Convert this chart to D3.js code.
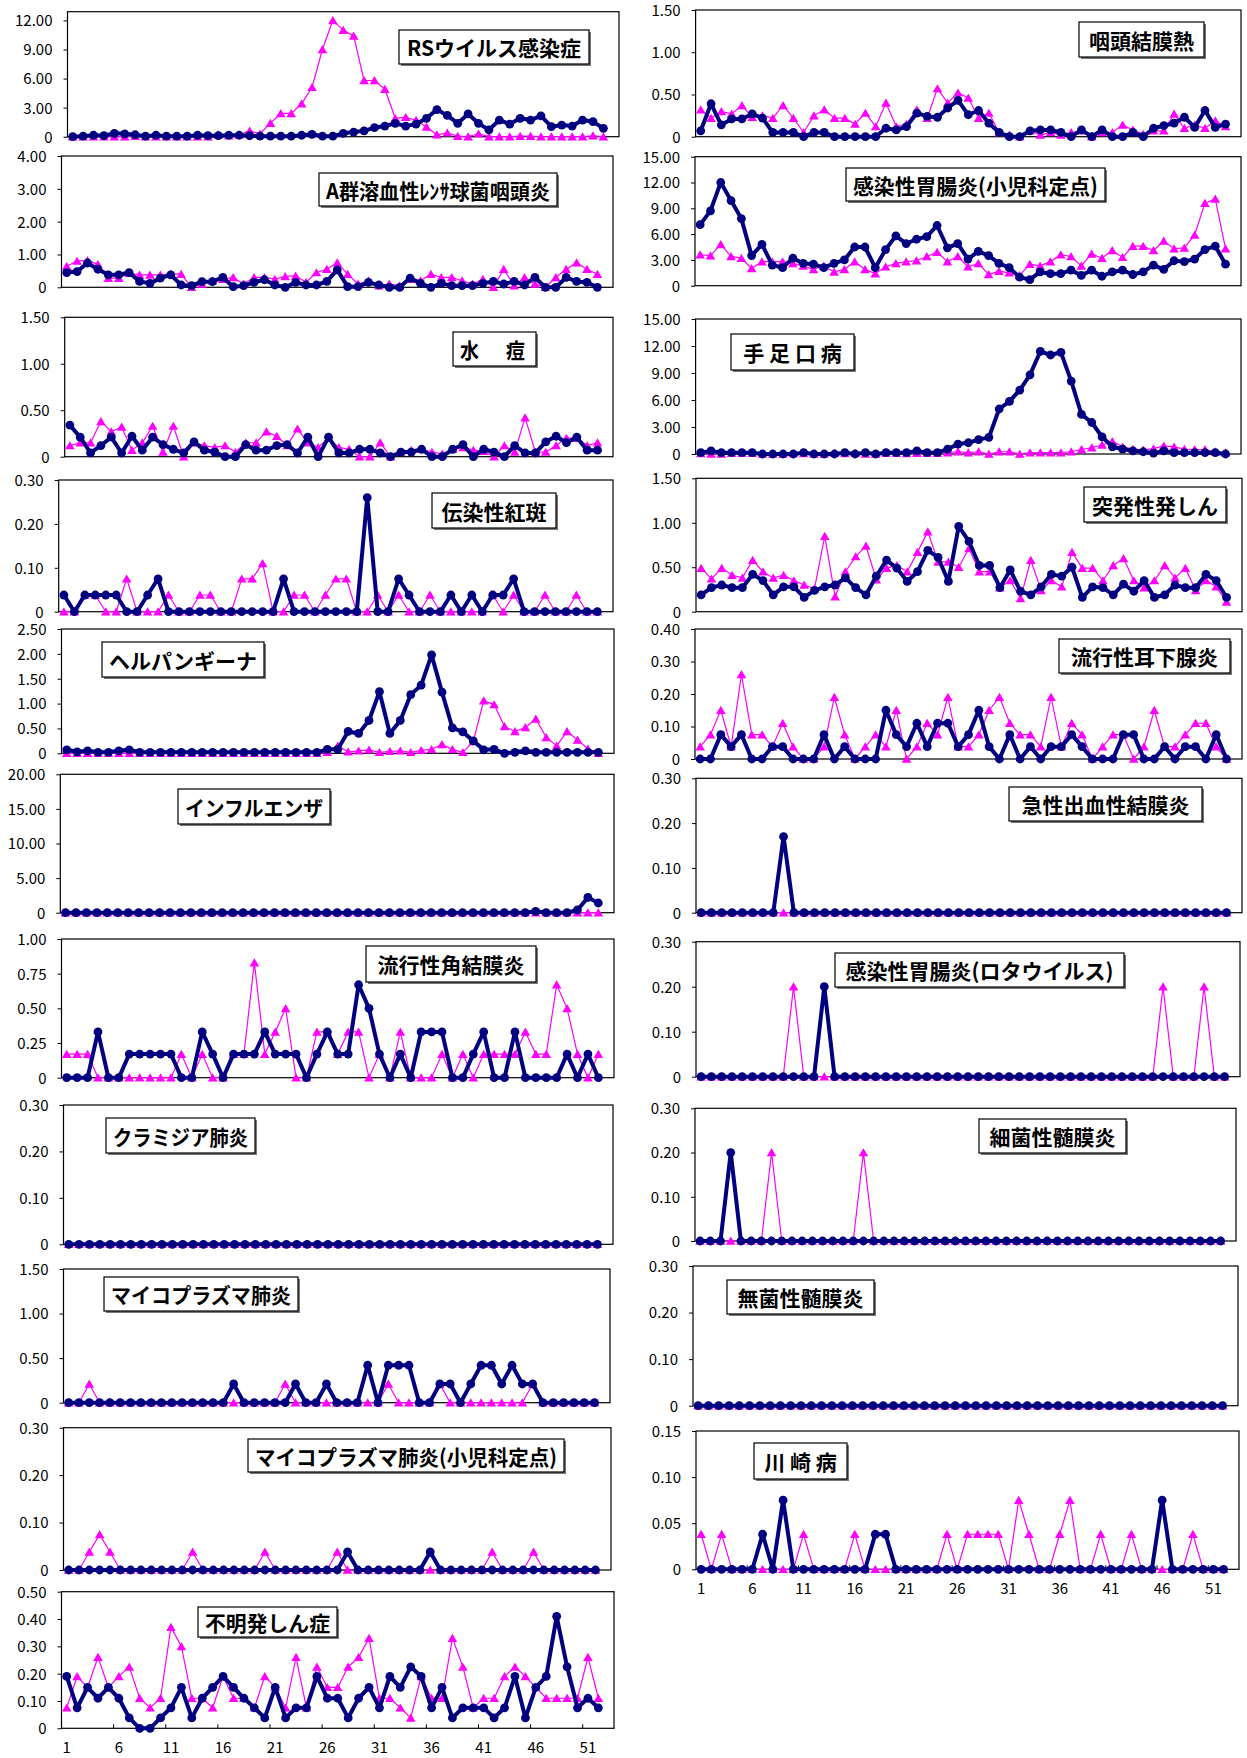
<!DOCTYPE html>
<html>
<head>
<meta charset="utf-8">
<script src="https://cdn.jsdelivr.net/npm/d3@7"></script>
<style>
  body { margin: 0; background: #fff; }
  svg { display: block; }
</style>
</head>
<body>
<div class="canvas"></div>
<script>
const w = 1247;
const h = 1758;

// weeks 1..52 (a 53rd empty slot keeps the Excel spacing)
const weeks = d3.range(1, 53);
const slots = d3.range(1, 54);
const weekLabels = [1, 6, 11, 16, 21, 26, 31, 36, 41, 46, 51];

// ---- values (navy = this year, magenta = last year) ----
const rsNow = [0, 0.05, 0.15, 0.1, 0.35, 0.3, 0.2, 0.05, 0.15, 0.05,
  0.05, 0.05, 0.15, 0.1, 0.1, 0.15, 0.15, 0.1, 0.05, 0.05,
  0.05, 0.05, 0.15, 0.25, 0.05, 0.05, 0.35, 0.48, 0.6, 0.93,
  1.1, 1.38, 1.1, 1.3, 1.9, 2.8, 2.2, 1.38, 2.35, 1.38,
  0.7, 1.72, 1.3, 1.9, 1.72, 2.14, 1.03, 1.2, 1.1, 1.72,
  1.55, 0.86];
const rsPrev = [0, 0, 0, 0, 0, 0, 0.05, 0, 0, 0,
  0, 0, 0, 0, 0.2, 0.1, 0.2, 0.6, 0.3, 1.4,
  2.4, 2.4, 3.4, 5.1, 9.0, 12.0, 11.0, 10.4, 5.8, 5.8,
  4.9, 1.9, 2.0, 1.7, 1.0, 0.2, 0.4, 0.05, 0, 0.3,
  0, 0, 0, 0.05, 0.05, 0, 0, 0, 0, 0,
  0.1, 0];

const agNow = [0.45, 0.48, 0.74, 0.55, 0.38, 0.38, 0.45, 0.18, 0.12, 0.28,
  0.38, 0.07, 0.05, 0.17, 0.17, 0.3, 0.02, 0.05, 0.15, 0.23,
  0.07, 0, 0.15, 0.07, 0.07, 0.18, 0.53, 0.02, 0.02, 0.15,
  0.07, 0, 0, 0.28, 0.12, 0, 0.12, 0.05, 0.05, 0.05,
  0.12, 0.18, 0.1, 0.18, 0.07, 0.3, 0, 0, 0.3, 0.18,
  0.15, 0];
const agPrev = [0.64, 0.8, 0.82, 0.7, 0.28, 0.28, 0.43, 0.38, 0.38, 0.38,
  0.41, 0.4, 0, 0.1, 0.2, 0.25, 0.3, 0.1, 0.3, 0.3,
  0.25, 0.33, 0.35, 0.15, 0.45, 0.55, 0.75, 0.4, 0.1, 0.2,
  0.05, 0.1, 0.05, 0.25, 0.2, 0.4, 0.3, 0.3, 0.2, 0.1,
  0.25, 0, 0.55, 0.05, 0.3, 0.1, 0, 0.3, 0.55, 0.75,
  0.55, 0.4];

const vzNow = [0.34, 0.21, 0.04, 0.12, 0.21, 0.04, 0.22, 0.07, 0.21, 0.13,
  0.08, 0.04, 0.16, 0.07, 0.05, 0, 0, 0.13, 0.07, 0.07,
  0.12, 0.13, 0.04, 0.21, 0, 0.21, 0.04, 0.04, 0.08, 0.08,
  0.04, 0, 0.05, 0.05, 0.08, 0, 0, 0.08, 0.13, 0,
  0.08, 0.05, 0, 0.12, 0.04, 0.04, 0.16, 0.22, 0.15, 0.21,
  0.07, 0.07];
const vzPrev = [0.12, 0.15, 0.15, 0.38, 0.27, 0.32, 0.07, 0.15, 0.33, 0.05,
  0.33, 0, 0.15, 0.12, 0.1, 0.12, 0.05, 0.15, 0.15, 0.27,
  0.22, 0.12, 0.3, 0.15, 0.1, 0.2, 0.1, 0.08, 0, 0,
  0.15, 0, 0.05, 0.07, 0.08, 0.05, 0.03, 0.08, 0.1, 0.07,
  0.06, 0, 0.12, 0.05, 0.42, 0.05, 0.05, 0.12, 0.2, 0.2,
  0.12, 0.15];

const kzNow = [0.038, 0, 0.038, 0.038, 0.038, 0.038, 0, 0, 0.038, 0.075,
  0, 0, 0, 0, 0, 0, 0, 0, 0, 0,
  0, 0.075, 0, 0, 0, 0, 0, 0, 0, 0.26,
  0, 0, 0.075, 0.038, 0, 0, 0, 0.038, 0, 0.038,
  0, 0.038, 0.038, 0.075, 0, 0, 0, 0, 0, 0,
  0, 0];
const kzPrev = [0, 0, 0.038, 0.038, 0, 0, 0.075, 0, 0, 0,
  0.038, 0, 0, 0.038, 0.038, 0, 0, 0.075, 0.075, 0.11,
  0, 0, 0.038, 0.038, 0, 0.038, 0.075, 0.075, 0, 0,
  0.038, 0, 0.038, 0, 0, 0.038, 0, 0, 0, 0,
  0, 0.038, 0, 0.038, 0, 0, 0.038, 0, 0, 0.038,
  0, 0];

const hpNow = [0.07, 0.03, 0.05, 0.02, 0.02, 0.05, 0.07, 0.02, 0.02, 0.02,
  0.02, 0.02, 0.02, 0.02, 0.02, 0.02, 0.02, 0.02, 0.02, 0.02,
  0.02, 0.02, 0.02, 0.02, 0.02, 0.08, 0.08, 0.44, 0.4, 0.66,
  1.24, 0.4, 0.66, 1.18, 1.37, 1.98, 1.23, 0.51, 0.43, 0.25,
  0.07, 0.08, 0, 0.02, 0.05, 0.02, 0.02, 0.02, 0.02, 0.02,
  0.02, 0.02];
const hpPrev = [0, 0, 0, 0, 0, 0, 0, 0, 0, 0,
  0, 0, 0, 0, 0, 0, 0, 0, 0, 0,
  0, 0, 0, 0, 0, 0.02, 0.15, 0.03, 0.05, 0.07,
  0.02, 0.04, 0.05, 0.02, 0.06, 0.08, 0.18, 0.08, 0.02, 0.24,
  1.06, 0.98, 0.54, 0.44, 0.52, 0.69, 0.32, 0.15, 0.44, 0.27,
  0.09, 0];

const infNow = [0, 0, 0, 0, 0, 0, 0, 0, 0, 0,
  0, 0, 0, 0, 0, 0, 0, 0, 0, 0,
  0, 0, 0, 0, 0, 0, 0, 0, 0, 0,
  0, 0, 0, 0, 0, 0, 0, 0, 0, 0,
  0, 0, 0, 0, 0, 0.2, 0, 0, 0, 0.4,
  2.2, 1.4];
const infPrev = [0, 0, 0, 0, 0, 0, 0, 0, 0, 0,
  0, 0, 0, 0, 0, 0, 0, 0, 0, 0,
  0, 0, 0, 0, 0, 0, 0, 0, 0, 0,
  0, 0, 0, 0, 0, 0, 0, 0, 0, 0,
  0, 0, 0, 0, 0, 0, 0, 0, 0, 0,
  0, 0];

const kcNow = [0, 0, 0, 0.33, 0, 0, 0.17, 0.17, 0.17, 0.17,
  0.17, 0, 0, 0.33, 0.17, 0, 0.17, 0.17, 0.17, 0.33,
  0.17, 0.17, 0.17, 0, 0.17, 0.33, 0.17, 0.17, 0.67, 0.5,
  0.17, 0, 0.17, 0, 0.33, 0.33, 0.33, 0, 0, 0.17,
  0.33, 0, 0, 0.33, 0, 0, 0, 0, 0.17, 0,
  0.17, 0];
const kcPrev = [0.17, 0.17, 0.17, 0, 0, 0, 0, 0, 0, 0,
  0, 0.17, 0, 0.17, 0, 0, 0.17, 0.17, 0.83, 0.17,
  0.33, 0.5, 0, 0, 0.33, 0.33, 0.17, 0.33, 0.33, 0,
  0.17, 0, 0.33, 0, 0, 0, 0.17, 0, 0.17, 0,
  0.17, 0.17, 0.17, 0.17, 0.33, 0.17, 0.17, 0.67, 0.5, 0.17,
  0, 0.17];

const chNow = [0, 0, 0, 0, 0, 0, 0, 0, 0, 0,
  0, 0, 0, 0, 0, 0, 0, 0, 0, 0,
  0, 0, 0, 0, 0, 0, 0, 0, 0, 0,
  0, 0, 0, 0, 0, 0, 0, 0, 0, 0,
  0, 0, 0, 0, 0, 0, 0, 0, 0, 0,
  0, 0];
const chPrev = [0, 0, 0, 0, 0, 0, 0, 0, 0, 0,
  0, 0, 0, 0, 0, 0, 0, 0, 0, 0,
  0, 0, 0, 0, 0, 0, 0, 0, 0, 0,
  0, 0, 0, 0, 0, 0, 0, 0, 0, 0,
  0, 0, 0, 0, 0, 0, 0, 0, 0, 0,
  0, 0];

const mpNow = [0, 0, 0, 0, 0, 0, 0, 0, 0, 0,
  0, 0, 0, 0, 0, 0, 0.21, 0, 0, 0,
  0, 0, 0.21, 0, 0, 0.21, 0, 0, 0, 0.42,
  0, 0.42, 0.42, 0.42, 0, 0, 0.21, 0.21, 0, 0.21,
  0.42, 0.42, 0.21, 0.42, 0.21, 0.21, 0, 0, 0, 0,
  0, 0];
const mpPrev = [0, 0, 0.21, 0, 0, 0, 0, 0, 0, 0,
  0, 0, 0, 0, 0, 0, 0, 0, 0, 0,
  0, 0.21, 0, 0, 0, 0, 0, 0, 0, 0,
  0, 0.21, 0, 0, 0, 0, 0.21, 0, 0, 0,
  0, 0, 0, 0, 0, 0.21, 0, 0, 0, 0,
  0, 0];

const mpcNow = [0, 0, 0, 0, 0, 0, 0, 0, 0, 0,
  0, 0, 0, 0, 0, 0, 0, 0, 0, 0,
  0, 0, 0, 0, 0, 0, 0, 0.038, 0, 0,
  0, 0, 0, 0, 0, 0.038, 0, 0, 0, 0,
  0, 0, 0, 0, 0, 0, 0, 0, 0, 0,
  0, 0];
const mpcPrev = [0, 0, 0.038, 0.075, 0.038, 0, 0, 0, 0, 0,
  0, 0, 0.038, 0, 0, 0, 0, 0, 0, 0.038,
  0, 0, 0, 0, 0, 0, 0.038, 0, 0, 0,
  0, 0, 0, 0, 0, 0, 0, 0, 0, 0,
  0, 0.038, 0, 0, 0, 0.038, 0, 0, 0, 0,
  0, 0];

const fmNow = [0.19, 0.075, 0.15, 0.11, 0.15, 0.11, 0.038, 0, 0, 0.038,
  0.075, 0.15, 0.038, 0.11, 0.15, 0.19, 0.15, 0.11, 0.075, 0.038,
  0.15, 0.038, 0.075, 0.075, 0.19, 0.11, 0.11, 0.038, 0.11, 0.15,
  0.075, 0.19, 0.15, 0.225, 0.19, 0.075, 0.15, 0.038, 0.075, 0.075,
  0.075, 0.038, 0.075, 0.19, 0.038, 0.15, 0.19, 0.41, 0.225, 0.075,
  0.11, 0.075];
const fmPrev = [0.075, 0.19, 0.15, 0.26, 0.15, 0.19, 0.225, 0.11, 0.075, 0.11,
  0.37, 0.3, 0.11, 0.11, 0.075, 0.19, 0.11, 0.11, 0.075, 0.19,
  0.15, 0.075, 0.26, 0.075, 0.225, 0.15, 0.15, 0.225, 0.26, 0.33,
  0.11, 0.11, 0.075, 0.038, 0.19, 0.11, 0.11, 0.33, 0.225, 0.075,
  0.11, 0.11, 0.19, 0.225, 0.19, 0.15, 0.11, 0.11, 0.11, 0.11,
  0.26, 0.11];

const phNow = [0.07, 0.39, 0.14, 0.21, 0.21, 0.27, 0.22, 0.05, 0.05, 0.05,
  0, 0.05, 0.05, 0, 0, 0, 0, 0, 0.1, 0.08,
  0.12, 0.28, 0.24, 0.23, 0.34, 0.43, 0.26, 0.31, 0.16, 0.05,
  0, 0, 0.07, 0.08, 0.08, 0.05, 0, 0.08, 0, 0.08,
  0, 0, 0.05, 0, 0.1, 0.13, 0.16, 0.23, 0.11, 0.31,
  0.11, 0.15];
const phPrev = [0.32, 0.22, 0.3, 0.27, 0.37, 0.23, 0.25, 0.22, 0.37, 0.22,
  0.05, 0.25, 0.32, 0.22, 0.22, 0.15, 0.28, 0.12, 0.4, 0.12,
  0.15, 0.32, 0.22, 0.57, 0.4, 0.52, 0.46, 0.22, 0.28, 0.05,
  0.02, 0, 0.07, 0.02, 0.05, 0.02, 0.05, 0.07, 0, 0.05,
  0.05, 0.14, 0.08, 0.03, 0.07, 0.07, 0.27, 0.1, 0.14, 0.1,
  0.19, 0.12];

const geNow = [7.1, 8.7, 12.0, 9.9, 7.8, 3.5, 4.8, 2.4, 2.1, 3.2,
  2.6, 2.5, 2.1, 2.6, 3.0, 4.5, 4.5, 2.1, 4.2, 5.8,
  4.9, 5.4, 5.7, 7.0, 4.4, 4.9, 3.1, 4.0, 3.5, 2.6,
  2.1, 1.0, 0.7, 1.6, 1.4, 1.4, 1.8, 1.2, 1.8, 1.1,
  1.6, 1.8, 1.3, 1.6, 2.4, 1.9, 2.9, 2.8, 3.1, 4.2,
  4.6, 2.5];
const gePrev = [3.6, 3.5, 4.8, 3.4, 3.2, 2.0, 2.8, 2.8, 2.8, 2.6,
  2.3, 1.9, 2.3, 1.6, 1.9, 2.8, 1.9, 1.4, 2.2, 2.6,
  2.8, 2.9, 3.4, 3.9, 2.8, 3.4, 2.2, 2.6, 1.3, 1.7,
  1.5, 1.2, 2.5, 2.3, 2.8, 3.6, 3.4, 2.3, 3.7, 3.2,
  4.1, 3.3, 4.6, 4.6, 4.1, 5.2, 4.3, 4.4, 5.9, 9.6,
  10.1, 4.3];

const hfNow = [0.15, 0.35, 0.15, 0.15, 0.15, 0.15, 0, 0, 0, 0,
  0.15, 0, 0, 0, 0.15, 0, 0.15, 0, 0.15, 0.15,
  0.15, 0.35, 0.15, 0.15, 0.55, 1.1, 1.25, 1.6, 1.85, 5.0,
  5.85, 7.1, 8.8, 11.4, 11.0, 11.3, 8.1, 4.4, 3.5, 1.9,
  0.8, 0.55, 0.35, 0.25, 0.1, 0.35, 0.15, 0.15, 0.15, 0.15,
  0.15, 0];
const hfPrev = [0.05, 0, 0, 0.1, 0.1, 0.1, 0, 0, 0, 0.05,
  0.05, 0, 0, 0.1, 0.05, 0.1, 0, 0, 0.1, 0.1,
  0.05, 0.1, 0.1, 0.1, 0.15, 0.25, 0.15, 0.25, 0, 0.25,
  0.25, 0, 0.15, 0.15, 0.15, 0.15, 0.25, 0.5, 0.7, 1.0,
  1.4, 0.8, 0.55, 0.45, 0.6, 0.9, 0.8, 0.55, 0.5, 0.5,
  0.25, 0.15];

const tpNow = [0.19, 0.27, 0.3, 0.27, 0.27, 0.42, 0.35, 0.19, 0.28, 0.28,
  0.16, 0.24, 0.28, 0.3, 0.38, 0.27, 0.19, 0.4, 0.58, 0.49,
  0.34, 0.45, 0.69, 0.61, 0.34, 0.96, 0.79, 0.52, 0.52, 0.27,
  0.47, 0.23, 0.19, 0.28, 0.42, 0.4, 0.5, 0.16, 0.28, 0.27,
  0.19, 0.31, 0.23, 0.35, 0.16, 0.19, 0.3, 0.27, 0.27, 0.42,
  0.35, 0.16];
const tpPrev = [0.49, 0.37, 0.49, 0.41, 0.38, 0.58, 0.45, 0.38, 0.41, 0.35,
  0.3, 0.26, 0.85, 0.17, 0.45, 0.62, 0.74, 0.36, 0.49, 0.52,
  0.45, 0.67, 0.9, 0.56, 0.56, 0.5, 0.71, 0.45, 0.45, 0.27,
  0.35, 0.15, 0.58, 0.24, 0.35, 0.28, 0.67, 0.49, 0.49, 0.35,
  0.52, 0.6, 0.35, 0.27, 0.35, 0.52, 0.38, 0.49, 0.24, 0.35,
  0.28, 0.11];

const muNow = [0, 0, 0.075, 0.038, 0.075, 0, 0, 0.038, 0.038, 0,
  0, 0, 0.075, 0, 0.038, 0, 0, 0, 0.15, 0.075,
  0.038, 0.11, 0.038, 0.11, 0.11, 0.038, 0.075, 0.15, 0.038, 0,
  0.075, 0, 0.038, 0, 0.038, 0.038, 0.075, 0.038, 0, 0,
  0, 0.075, 0.075, 0, 0, 0.038, 0, 0.038, 0.038, 0,
  0.075, 0];
const muPrev = [0.038, 0.075, 0.15, 0.038, 0.26, 0.075, 0.075, 0.038, 0.11, 0.038,
  0, 0, 0.038, 0.19, 0.075, 0, 0.038, 0.075, 0.038, 0.15,
  0, 0.038, 0.11, 0.075, 0.19, 0.038, 0.038, 0.075, 0.15, 0.19,
  0.11, 0.075, 0.075, 0.038, 0.19, 0.038, 0.11, 0.075, 0, 0.038,
  0.075, 0.075, 0, 0.038, 0.15, 0.038, 0.038, 0.075, 0.11, 0.11,
  0.038, 0];

const kyNow = [0, 0, 0, 0, 0, 0, 0, 0, 0.17, 0,
  0, 0, 0, 0, 0, 0, 0, 0, 0, 0,
  0, 0, 0, 0, 0, 0, 0, 0, 0, 0,
  0, 0, 0, 0, 0, 0, 0, 0, 0, 0,
  0, 0, 0, 0, 0, 0, 0, 0, 0, 0,
  0, 0];
const kyPrev = [0, 0, 0, 0, 0, 0, 0, 0, 0, 0,
  0, 0, 0, 0, 0, 0, 0, 0, 0, 0,
  0, 0, 0, 0, 0, 0, 0, 0, 0, 0,
  0, 0, 0, 0, 0, 0, 0, 0, 0, 0,
  0, 0, 0, 0, 0, 0, 0, 0, 0, 0,
  0, 0];

const rotaNow = [0, 0, 0, 0, 0, 0, 0, 0, 0, 0,
  0, 0, 0.2, 0, 0, 0, 0, 0, 0, 0,
  0, 0, 0, 0, 0, 0, 0, 0, 0, 0,
  0, 0, 0, 0, 0, 0, 0, 0, 0, 0,
  0, 0, 0, 0, 0, 0, 0, 0, 0, 0,
  0, 0];
const rotaPrev = [0, 0, 0, 0, 0, 0, 0, 0, 0, 0.2,
  0, 0, 0, 0, 0, 0, 0, 0, 0, 0,
  0, 0, 0, 0, 0, 0, 0, 0, 0, 0,
  0, 0, 0, 0, 0, 0, 0, 0, 0, 0,
  0, 0, 0, 0, 0, 0.2, 0, 0, 0, 0.2,
  0, 0];

const saiNow = [0, 0, 0, 0.2, 0, 0, 0, 0, 0, 0,
  0, 0, 0, 0, 0, 0, 0, 0, 0, 0,
  0, 0, 0, 0, 0, 0, 0, 0, 0, 0,
  0, 0, 0, 0, 0, 0, 0, 0, 0, 0,
  0, 0, 0, 0, 0, 0, 0, 0, 0, 0,
  0, 0];
const saiPrev = [0, 0, 0, 0, 0, 0, 0, 0.2, 0, 0,
  0, 0, 0, 0, 0, 0, 0.2, 0, 0, 0,
  0, 0, 0, 0, 0, 0, 0, 0, 0, 0,
  0, 0, 0, 0, 0, 0, 0, 0, 0, 0,
  0, 0, 0, 0, 0, 0, 0, 0, 0, 0,
  0, 0];

const mkNow = [0, 0, 0, 0, 0, 0, 0, 0, 0, 0,
  0, 0, 0, 0, 0, 0, 0, 0, 0, 0,
  0, 0, 0, 0, 0, 0, 0, 0, 0, 0,
  0, 0, 0, 0, 0, 0, 0, 0, 0, 0,
  0, 0, 0, 0, 0, 0, 0, 0, 0, 0,
  0, 0];
const mkPrev = [0, 0, 0, 0, 0, 0, 0, 0, 0, 0,
  0, 0, 0, 0, 0, 0, 0, 0, 0, 0,
  0, 0, 0, 0, 0, 0, 0, 0, 0, 0,
  0, 0, 0, 0, 0, 0, 0, 0, 0, 0,
  0, 0, 0, 0, 0, 0, 0, 0, 0, 0,
  0, 0];

const kwNow = [0, 0, 0, 0, 0, 0, 0.038, 0, 0.075, 0,
  0, 0, 0, 0, 0, 0, 0, 0.038, 0.038, 0,
  0, 0, 0, 0, 0, 0, 0, 0, 0, 0,
  0, 0, 0, 0, 0, 0, 0, 0, 0, 0,
  0, 0, 0, 0, 0, 0.075, 0, 0, 0, 0,
  0, 0];
const kwPrev = [0.038, 0, 0.038, 0, 0, 0, 0, 0, 0, 0,
  0.038, 0, 0, 0, 0, 0.038, 0, 0, 0, 0,
  0, 0, 0, 0, 0.038, 0, 0.038, 0.038, 0.038, 0.038,
  0, 0.075, 0.038, 0, 0, 0.038, 0.075, 0, 0, 0.038,
  0, 0, 0.038, 0, 0, 0, 0, 0, 0.038, 0,
  0, 0];

// y tick values
const ticksRS = [0, 3, 6, 9, 12];
const ticks4 = [0, 1, 2, 3, 4];
const ticks15 = [0, 0.5, 1, 1.5];
const ticks03 = [0, 0.1, 0.2, 0.3];
const ticks25 = [0, 0.5, 1, 1.5, 2, 2.5];
const ticks20 = [0, 5, 10, 15, 20];
const ticks1 = [0, 0.25, 0.5, 0.75, 1];
const ticks05 = [0, 0.1, 0.2, 0.3, 0.4, 0.5];
const ticks150 = [0, 3, 6, 9, 12, 15];
const ticks04 = [0, 0.1, 0.2, 0.3, 0.4];
const ticks015 = [0, 0.05, 0.1, 0.15];

// panel table: plot box [left, right, top, zero line], title box [x0, x1, y0, y1]
const panels = [
  { title: "RSウイルス感染症", now: rsNow, prev: rsPrev, yMax: 12.9, ticks: ticksRS, box: [67.5, 619, 11.7, 136.7], tbox: [399, 589, 30, 64] },
  { title: "A群溶血性ﾚﾝｻ球菌咽頭炎", now: agNow, prev: agPrev, yMax: 4, ticks: ticks4, box: [61.5, 613, 156, 287.3], tbox: [319, 557, 173, 206] },
  { title: "水　痘", now: vzNow, prev: vzPrev, yMax: 1.5, ticks: ticks15, box: [64.7, 613, 317.3, 456.7], tbox: [453, 536, 332, 366], spacing: 4.5 },
  { title: "伝染性紅斑", now: kzNow, prev: kzPrev, yMax: 0.3, ticks: ticks03, box: [58.7, 613, 480, 611.7], tbox: [432, 556, 493, 528] },
  { title: "ヘルパンギーナ", now: hpNow, prev: hpPrev, yMax: 2.5, ticks: ticks25, box: [61.5, 614, 629, 753.3], tbox: [102, 264, 642, 677] },
  { title: "インフルエンザ", now: infNow, prev: infPrev, yMax: 20, ticks: ticks20, box: [60.3, 614, 774.3, 912.7], tbox: [178, 330, 789, 824] },
  { title: "流行性角結膜炎", now: kcNow, prev: kcPrev, yMax: 1, ticks: ticks1, box: [61.5, 614, 939, 1077.7], tbox: [366, 536, 946, 982] },
  { title: "クラミジア肺炎", now: chNow, prev: chPrev, yMax: 0.3, ticks: ticks03, box: [63.5, 613, 1105, 1244.3], tbox: [106, 255, 1118, 1153] },
  { title: "マイコプラズマ肺炎", now: mpNow, prev: mpPrev, yMax: 1.5, ticks: ticks15, box: [63.5, 610, 1269, 1402.7], tbox: [104, 298, 1277, 1311] },
  { title: "マイコプラズマ肺炎(小児科定点)", now: mpcNow, prev: mpcPrev, yMax: 0.3, ticks: ticks03, box: [63.5, 611, 1427.7, 1570], tbox: [248, 564, 1439, 1472] },
  { title: "不明発しん症", now: fmNow, prev: fmPrev, yMax: 0.5, ticks: ticks05, box: [61.5, 614, 1591.7, 1728.3], tbox: [198, 337, 1607, 1637], xAxis: true },
  { title: "咽頭結膜熱", now: phNow, prev: phPrev, yMax: 1.5, ticks: ticks15, box: [695.6, 1241, 10, 136.7], tbox: [1079, 1204, 22, 57] },
  { title: "感染性胃腸炎(小児科定点)", now: geNow, prev: gePrev, yMax: 15, ticks: ticks150, box: [695, 1241, 156.7, 285.7], tbox: [846, 1105, 168, 201] },
  { title: "手 足 口 病", now: hfNow, prev: hfPrev, yMax: 15, ticks: ticks150, box: [695.6, 1241, 319, 454], tbox: [731, 854, 334, 370] },
  { title: "突発性発しん", now: tpNow, prev: tpPrev, yMax: 1.5, ticks: ticks15, box: [696, 1242, 478.3, 611.7], tbox: [1084, 1226, 487, 522] },
  { title: "流行性耳下腺炎", now: muNow, prev: muPrev, yMax: 0.4, ticks: ticks04, box: [695, 1242, 629, 759], tbox: [1059, 1230, 639, 673] },
  { title: "急性出血性結膜炎", now: kyNow, prev: kyPrev, yMax: 0.3, ticks: ticks03, box: [696, 1242, 778.3, 912.7], tbox: [1009, 1202, 787, 821] },
  { title: "感染性胃腸炎(ロタウイルス)", now: rotaNow, prev: rotaPrev, yMax: 0.3, ticks: ticks03, box: [696, 1240, 941.7, 1076.7], tbox: [835, 1124, 953, 987] },
  { title: "細菌性髄膜炎", now: saiNow, prev: saiPrev, yMax: 0.3, ticks: ticks03, box: [695, 1236, 1108.3, 1241], tbox: [979, 1126, 1119, 1153] },
  { title: "無菌性髄膜炎", now: mkNow, prev: mkPrev, yMax: 0.3, ticks: ticks03, box: [693, 1238, 1266, 1405.7], tbox: [727, 874, 1280, 1314] },
  { title: "川 崎 病", now: kwNow, prev: kwPrev, yMax: 0.15, ticks: ticks015, box: [696, 1239, 1431, 1569.3], tbox: [754, 847, 1443, 1479], xAxis: true }
];

const svg = d3.select(".canvas").append("svg").attr("width", w).attr("height", h);
svg.append("rect").attr("width", w).attr("height", h).attr("fill", "#fff");

const labelFont = "'Noto Sans CJK JP', 'Noto Sans', sans-serif";
const fmt = (d) => (d === 0 ? "0" : d.toFixed(2));
const triangle = "M0,-4.4L4.8,3.8L-4.8,3.8Z";

panels.forEach((p) => {
  const [left, right, top, bottom] = p.box;
  const x = d3.scaleBand().domain(slots).range([left, right]);
  const y = d3.scaleLinear().domain([0, p.yMax]).range([bottom, top]);
  const px = (wk) => x(wk) + x.bandwidth() / 2;

  const g = svg.append("g");

  // plot frame
  g.append("rect")
    .attr("x", left).attr("y", top)
    .attr("width", right - left).attr("height", bottom - top)
    .attr("fill", "none").attr("stroke", "#000").attr("stroke-width", 1.2);

  // y axis
  const yAxis = d3.axisLeft(y).tickValues(p.ticks).tickSize(4).tickPadding(11).tickFormat(fmt);
  const ya = g.append("g").attr("transform", `translate(${left},0)`).call(yAxis);
  ya.select(".domain").remove();
  ya.selectAll("line").attr("stroke", "#000");
  ya.selectAll("text").attr("fill", "#000").attr("dy", "0.36em")
    .style("font-family", labelFont).style("font-size", "15px");

  // bottom week labels
  if (p.xAxis) {
    const xa = g.append("g").attr("transform", `translate(0,${bottom})`)
      .call(d3.axisBottom(x).tickValues(weekLabels).tickSize(0).tickPadding(14));
    xa.select(".domain").remove();
    xa.selectAll("text").attr("fill", "#000").style("font-family", labelFont).style("font-size", "15px");
    g.selectAll(".wtick").data(weekLabels.slice(1)).enter().append("line")
      .attr("x1", (d) => x(d)).attr("x2", (d) => x(d))
      .attr("y1", bottom).attr("y2", bottom - 4)
      .attr("stroke", "#000");
  }

  const line = d3.line().x((d, i) => px(weeks[i])).y((d) => y(d));

  // last year (magenta, thin, triangles)
  g.append("path").datum(p.prev).attr("d", line)
    .attr("fill", "none").attr("stroke", "#ff00ff").attr("stroke-width", 1.2);
  g.selectAll(".tri").data(p.prev).enter().append("path")
    .attr("d", triangle)
    .attr("transform", (d, i) => `translate(${px(weeks[i])},${y(d)})`)
    .attr("fill", "#ff00ff");

  // this year (navy, thick, circles)
  g.append("path").datum(p.now).attr("d", line)
    .attr("fill", "none").attr("stroke", "#000080").attr("stroke-width", 4)
    .attr("stroke-linejoin", "round");
  g.selectAll(".dot").data(p.now).enter().append("circle")
    .attr("cx", (d, i) => px(weeks[i]))
    .attr("cy", (d) => y(d))
    .attr("r", 4.4)
    .attr("fill", "#000080");

  // title box with a small shadow
  const [tx0, tx1, ty0, ty1] = p.tbox;
  g.append("rect")
    .attr("x", tx0 + 2).attr("y", ty0 + 2)
    .attr("width", tx1 - tx0).attr("height", ty1 - ty0)
    .attr("fill", "#777");
  g.append("rect")
    .attr("x", tx0).attr("y", ty0)
    .attr("width", tx1 - tx0).attr("height", ty1 - ty0)
    .attr("fill", "#fff").attr("stroke", "#000").attr("stroke-width", 1.2);
  const t = g.append("text")
    .attr("x", (tx0 + tx1) / 2)
    .attr("y", (ty0 + ty1) / 2)
    .attr("text-anchor", "middle")
    .attr("dominant-baseline", "central")
    .style("font-family", labelFont)
    .style("font-weight", "bold")
    .style("font-size", "21px")
    .style("white-space", "pre")
    .text(p.title);
  if (p.spacing) t.style("letter-spacing", p.spacing + "px");
  const tw = t.node().getComputedTextLength();
  const room = tx1 - tx0 - 14;
  if (tw > room) t.attr("textLength", room).attr("lengthAdjust", "spacingAndGlyphs");
});
</script>
</body>
</html>
